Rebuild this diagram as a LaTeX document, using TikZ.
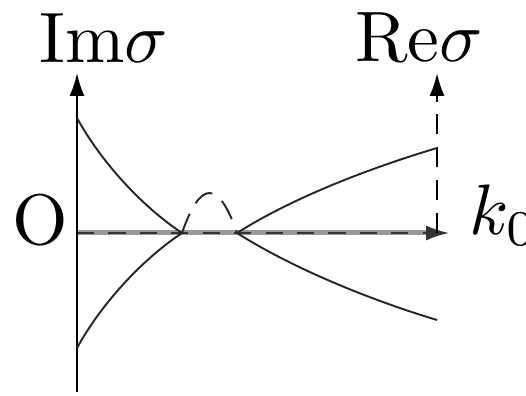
\documentclass[tikz,border=0pt]{standalone}
\usetikzlibrary{arrows.meta}
\begin{document}
\begin{tikzpicture}[x=0.14pt,y=-0.14pt,
  curve/.style={line width=0.27pt,black!85},
  axis/.style={line width=0.32pt,black},
  tip/.style={-{Latex[length=3.2pt,width=2.1pt]}},
  lbl/.style={inner sep=0pt,font=\fontsize{10}{12}\selectfont}]
\useasboundingbox (0,0) rectangle (526,395);
% coordinates
\coordinate (org) at (77,233);
\coordinate (bot) at (77,392);
\coordinate (imtop) at (77,73);
\coordinate (ktip) at (449,233);
\coordinate (bandend) at (430,233);
\coordinate (rebase) at (437,233);
\coordinate (retop) at (437,73);
\coordinate (ul) at (77,118);
\coordinate (ll) at (77,348);
\coordinate (c1) at (182,233);
\coordinate (c2) at (237,233);
\coordinate (ur) at (437,148);
\coordinate (lr) at (437,320);
% horizontal axis: gray band with dashes
\draw[line width=0.7pt,black!40] (org) -- (bandend);
\draw[axis,tip,black!80,dash pattern=on 2.4pt off 2pt] (org) -- (ktip);
% vertical Im axis
\draw[axis,tip] (bot) -- (imtop);
% Re axis dashed
\draw[axis,tip,dash pattern=on 2.8pt off 1.8pt] (rebase) -- (retop);
% curves
\draw[curve] (ul) .. controls (100,160) and (140,205) .. (c1);
\draw[curve] (ll) .. controls (100,306) and (140,261) .. (c1);
\draw[curve] (c2) .. controls (297,195) and (377,166) .. (ur);
\draw[curve] (c2) .. controls (297,271) and (377,302) .. (lr);
\draw[curve,dash pattern=on 2.9pt off 1.7pt] (c1) .. controls (200.3,179.7) and (218.7,179.7) .. (c2);
% labels
\node[lbl,anchor=base] (im) at (104,63) {Im$\sigma$};
\node[lbl,anchor=base] (re) at (419,62) {Re$\sigma$};
\node[lbl] (o) at (40,220) {O};
\node[lbl,anchor=base west] (k) at (468,235) {$k_0$};
\end{tikzpicture}
\end{document}
